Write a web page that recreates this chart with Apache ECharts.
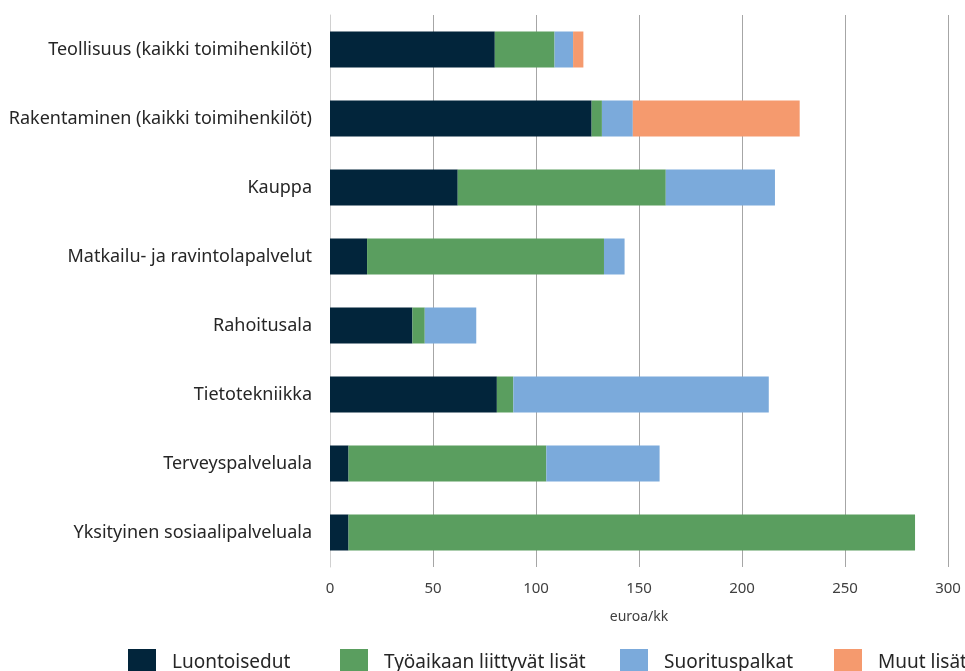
<!DOCTYPE html>
<html>
<head>
<meta charset="utf-8">
<script src="https://cdn.jsdelivr.net/npm/echarts@6/dist/echarts.min.js"></script>
<style>
  html, body { margin: 0; padding: 0; background: #fff; }
  #chart { width: 965px; height: 671px; }
</style>
</head>
<body>
<div id="chart"></div>
<script>
// toimialat ylhäältä alas
var categories = [
  "Teollisuus (kaikki toimihenkilöt)",
  "Rakentaminen (kaikki toimihenkilöt)",
  "Kauppa",
  "Matkailu- ja ravintolapalvelut",
  "Rahoitusala",
  "Tietotekniikka",
  "Terveyspalveluala",
  "Yksityinen sosiaalipalveluala"
];
var seriesNames = ["Luontoisedut", "Työaikaan liittyvät lisät", "Suorituspalkat", "Muut lisät"];
var luontoisedut = [80, 127, 62, 18, 40, 81, 9, 9];
var tyoaikaLisat = [29, 5, 101, 115, 6, 8, 96, 275];
var suorituspalkat = [9, 15, 53, 10, 25, 124, 55, 0];
var muutLisat = [5, 81, 0, 0, 0, 0, 0, 0];
var xTicks = [0, 50, 100, 150, 200, 250, 300];

var font = "'Noto Sans', sans-serif";
var colors = ["#02253b", "#5a9e5f", "#7baadb", "#f59a6e"];
var legendLeft = [128, 340, 620, 834]; // selitteiden paikat kuten kuvassa
var chart = echarts.init(document.getElementById("chart"));

function bar(i, data) {
  return {
    name: seriesNames[i],
    type: "bar",
    stack: "total",
    barWidth: 36,
    data: data,
    itemStyle: { color: colors[i] },
    emphasis: { disabled: true }
  };
}

var legends = seriesNames.map(function (n, i) {
  return {
    left: legendLeft[i],
    top: 649,
    padding: 0,
    itemWidth: 28,
    itemHeight: 28,
    icon: "rect",
    textStyle: { fontSize: 19, color: "#262626", padding: [0, 0, 0, 11], fontFamily: font },
    data: [n]
  };
});

chart.setOption({
  animation: false,
  textStyle: { fontFamily: font },
  grid: { left: 330, right: 17, top: 15, bottom: 104, containLabel: false },
  xAxis: {
    type: "value",
    min: xTicks[0],
    max: xTicks[xTicks.length - 1],
    interval: 50,
    name: "euroa/kk",
    nameLocation: "middle",
    nameGap: 43,
    nameTextStyle: { fontSize: 14, color: "#404040", fontFamily: font },
    axisLine: { show: false },
    axisTick: { show: false },
    axisLabel: { fontSize: 15, color: "#404040", margin: 14, fontFamily: font },
    splitLine: { show: true, lineStyle: { color: "#a6a6a6", width: 1 } }
  },
  yAxis: {
    type: "category",
    data: categories,
    inverse: true,
    axisLine: { show: true, lineStyle: { color: "#d0d0d0", width: 1 } },
    axisTick: { show: false },
    axisLabel: { fontSize: 18, color: "#262626", margin: 18, fontFamily: font }
  },
  legend: legends,
  series: [
    bar(0, luontoisedut),
    bar(1, tyoaikaLisat),
    bar(2, suorituspalkat),
    bar(3, muutLisat)
  ]
});
</script>
</body>
</html>
